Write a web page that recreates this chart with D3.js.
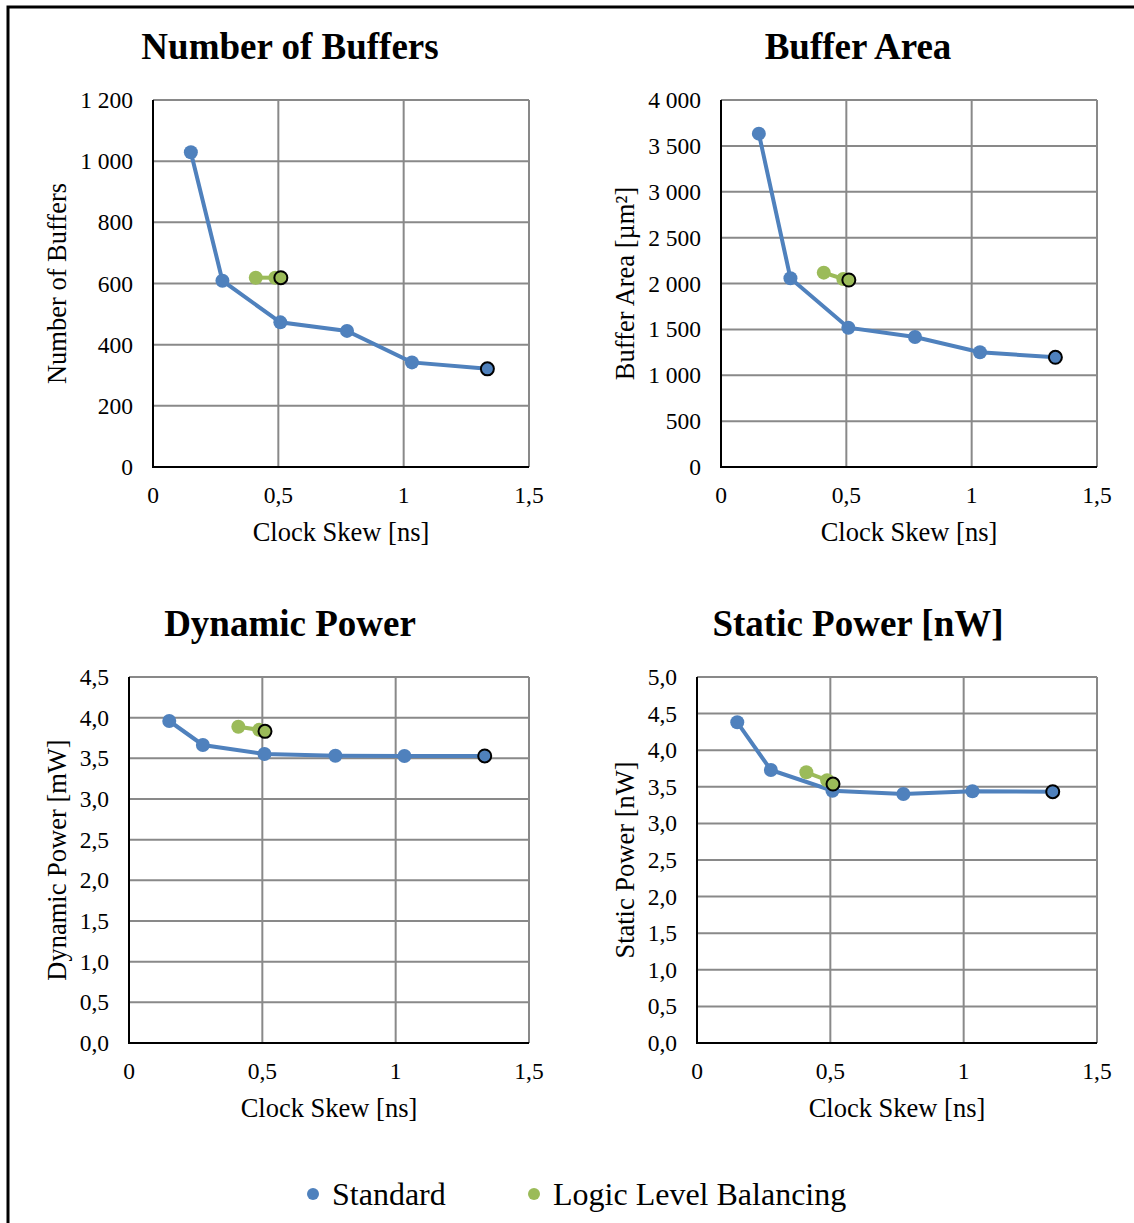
<!DOCTYPE html>
<html lang="en">
<head>
  <meta charset="UTF-8">
  <title>Clock Skew Comparison</title>
  <script src="https://d3js.org/d3.v7.min.js"></script>
  <style>
    body { margin: 0; background: #fff; }
    svg { display: block; font-family: "Liberation Serif", "Times New Roman", serif; }
    .grid line { stroke: #898989; stroke-width: 2; }
    .axis-line { stroke: #000; stroke-width: 2; }
    .tick-label { font-size: 23.5px; fill: #000; }
    .axis-title { font-size: 26.5px; fill: #000; }
    .panel-title { font-size: 37px; font-weight: bold; fill: #000; }
    .legend text { font-size: 32px; fill: #000; }
  </style>
</head>
<body>
<svg width="1134" height="1223"></svg>
<script>
  // clock skew [ns]
  const skewStd = [0.151, 0.277, 0.508, 0.774, 1.033, 1.334];
  const skewLlb = [0.41, 0.488, 0.51];

  const buffersStd = [1029, 609, 473, 445, 342, 321];
  const buffersLlb = [619, 619, 619];
  const areaStd = [3633, 2057, 1518, 1417, 1250, 1196];
  const areaLlb = [2118, 2049, 2038];
  const dynStd = [3.959, 3.664, 3.553, 3.532, 3.529, 3.529];
  const dynLlb = [3.889, 3.85, 3.832];
  const statStd = [4.381, 3.730, 3.447, 3.402, 3.439, 3.433];
  const statLlb = [3.698, 3.59, 3.538];

  const xTicks = [0, 0.5, 1, 1.5];
  const seriesNames = ["Standard", "Logic Level Balancing"];
  const colors = ["#4f81bd", "#9bbb59"];

  const loc = d3.formatLocale({ decimal: ",", thousands: " ", grouping: [3], currency: ["", ""] });
  const fmtInt = loc.format(",d");
  const fmtDec = loc.format(".1f");
  const fmtX = v => loc.format("")(v);

  const svg = d3.select("svg");

  // outer frame
  svg.append("rect")
    .attr("x", 8).attr("y", 7).attr("width", 1140).attr("height", 1240)
    .attr("fill", "none").attr("stroke", "#000").attr("stroke-width", 3);

  const panels = [
    { title: "Number of Buffers", yTitle: "Number of Buffers", std: buffersStd, llb: buffersLlb,
      yMax: 1200, yStep: 200, fmt: fmtInt, titleX: 290, titleY: 59, yTitleX: 57,
      box: { l: 153, r: 529, t: 100, b: 467 } },
    { title: "Buffer Area", yTitle: "Buffer Area [µm²]", std: areaStd, llb: areaLlb,
      yMax: 4000, yStep: 500, fmt: fmtInt, titleX: 858, titleY: 59, yTitleX: 625,
      box: { l: 721, r: 1097, t: 100, b: 467 } },
    { title: "Dynamic Power", yTitle: "Dynamic Power [mW]", std: dynStd, llb: dynLlb,
      yMax: 4.5, yStep: 0.5, fmt: fmtDec, titleX: 290, titleY: 636, yTitleX: 57,
      box: { l: 129, r: 529, t: 677, b: 1043 } },
    { title: "Static Power [nW]", yTitle: "Static Power [nW]", std: statStd, llb: statLlb,
      yMax: 5, yStep: 0.5, fmt: fmtDec, titleX: 858, titleY: 636, yTitleX: 625,
      box: { l: 697, r: 1097, t: 677, b: 1043 } }
  ];

  panels.forEach(p => {
    const g = svg.append("g");
    const x = d3.scaleLinear().domain([0, 1.5]).range([p.box.l, p.box.r]);
    const y = d3.scaleLinear().domain([0, p.yMax]).range([p.box.b, p.box.t]);
    const yTicks = d3.range(0, p.yMax + p.yStep / 2, p.yStep);

    const grid = g.append("g").attr("class", "grid");
    grid.selectAll(".h").data(yTicks.slice(1)).enter().append("line")
      .attr("x1", p.box.l).attr("x2", p.box.r)
      .attr("y1", d => y(d)).attr("y2", d => y(d));
    grid.selectAll(".v").data(xTicks.slice(1)).enter().append("line")
      .attr("x1", d => x(d)).attr("x2", d => x(d))
      .attr("y1", p.box.t).attr("y2", p.box.b);

    g.append("path").attr("class", "axis-line").attr("fill", "none")
      .attr("d", `M${p.box.l},${p.box.t}V${p.box.b}H${p.box.r}`);

    g.selectAll(".ytl").data(yTicks).enter().append("text")
      .attr("class", "tick-label")
      .attr("x", p.box.l - 20).attr("y", d => y(d) + 8)
      .attr("text-anchor", "end")
      .text(d => p.fmt(d));

    g.selectAll(".xtl").data(xTicks).enter().append("text")
      .attr("class", "tick-label")
      .attr("x", d => x(d)).attr("y", p.box.b + 36)
      .attr("text-anchor", "middle")
      .text(d => fmtX(d));

    g.append("text").attr("class", "axis-title")
      .attr("x", (p.box.l + p.box.r) / 2).attr("y", p.box.b + 74)
      .attr("text-anchor", "middle").text("Clock Skew [ns]");

    g.append("text").attr("class", "axis-title")
      .attr("transform", `translate(${p.yTitleX + 9},${(p.box.t + p.box.b) / 2}) rotate(-90)`)
      .attr("text-anchor", "middle").text(p.yTitle);

    g.append("text").attr("class", "panel-title")
      .attr("x", p.titleX).attr("y", p.titleY)
      .attr("text-anchor", "middle").text(p.title);

    const line = d3.line().x(d => x(d[0])).y(d => y(d[1]));
    [[skewStd, p.std], [skewLlb, p.llb]].forEach(([xs, ys], si) => {
      const pts = xs.map((v, i) => [v, ys[i]]);
      g.append("path").datum(pts)
        .attr("d", line).attr("fill", "none")
        .attr("stroke", colors[si]).attr("stroke-width", 4);
      g.selectAll(null).data(pts).enter().append("circle")
        .attr("cx", d => x(d[0])).attr("cy", d => y(d[1]))
        .attr("r", (d, i) => i === pts.length - 1 ? 6.5 : 7)
        .attr("fill", colors[si])
        .attr("stroke", (d, i) => i === pts.length - 1 ? "#000" : "none")
        .attr("stroke-width", 2);
    });
  });

  // legend
  const legend = svg.append("g").attr("class", "legend");
  const legendX = [313, 534];
  seriesNames.forEach((name, i) => {
    legend.append("circle").attr("cx", legendX[i]).attr("cy", 1194).attr("r", 6).attr("fill", colors[i]);
    legend.append("text").attr("x", legendX[i] + 19).attr("y", 1205).text(name);
  });
</script>
</body>
</html>
